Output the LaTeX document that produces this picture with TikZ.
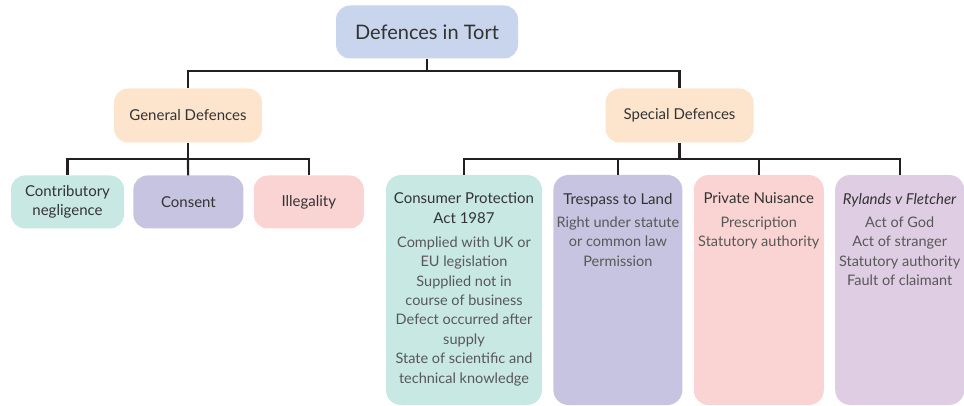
\documentclass[tikz,border=0pt]{standalone}
\usepackage{fontspec}
\setmainfont{Lato}
\usetikzlibrary{positioning}
\definecolor{inkDark}{RGB}{51,51,51}
\definecolor{inkSoft}{RGB}{88,88,88}
\definecolor{lineBlack}{RGB}{35,31,32}
\definecolor{tortBlue}{RGB}{200,213,237}
\definecolor{peach}{RGB}{253,228,204}
\definecolor{tealPale}{RGB}{200,232,228}
\definecolor{lavender}{RGB}{199,196,225}
\definecolor{pinkPale}{RGB}{250,212,210}
\definecolor{lilac}{RGB}{223,205,228}
\tikzset{
  tort node/.style={fill=tortBlue,rounded corners=14pt,align=center,text=inkDark,font=\fontsize{20}{24}\selectfont,minimum width=182pt,minimum height=53pt},
  group node/.style={fill=peach,rounded corners=14pt,align=center,text=inkDark,font=\fontsize{15}{19}\selectfont,minimum width=148pt,minimum height=54pt},
  leaf node/.style={rounded corners=14pt,align=center,text=inkDark,font=\fontsize{15}{19}\selectfont,minimum height=53pt},
  list node/.style={rounded corners=15pt,inner sep=0pt,minimum height=230pt},
  tree line/.style={line width=2.2pt,draw=lineBlack}
}
% heading and list of defences, set from the top of a tall box
\newcommand{\defencelist}[3]{%
  \parbox[c][230pt][t]{#1}{\centering\vspace*{18pt}%
    {\color{inkDark}\fontsize{15}{20}\selectfont #2\par}\vspace{4pt}%
    {\color{inkSoft}\fontsize{14.5}{19.4}\selectfont #3\par}}}

\begin{document}
\begin{tikzpicture}[x=1pt,y=1pt]
  \useasboundingbox (0,0) rectangle (964,-406);
  \node[tort node] (tort) at (427,-32) {Defences in Tort};
  \node[group node] (general) at (188,-115.5) {General Defences};
  \node[group node] (special) at (679.5,-115.5) {Special Defences};
  % general defences
  \node[leaf node,fill=tealPale,minimum width=113pt] (contrib) at (67.5,-202) {Contributory\\negligence};
  \node[leaf node,fill=lavender,minimum width=110pt,right=9pt of contrib] (consent) {Consent};
  \node[leaf node,fill=pinkPale,minimum width=110pt,right=10pt of consent] (illegal) {Illegality};
  % special defences
  \node[list node,fill=tealPale,minimum width=156pt] (consumer) at (464,-290) {\defencelist{152pt}{Consumer Protection\\Act 1987}{Complied with UK or\\EU legislation\\Supplied not in\\course of business\\Defect occurred after\\supply\\State of scientific and\\technical knowledge}};
  \node[list node,fill=lavender,minimum width=129pt,right=11pt of consumer] (trespass) {\defencelist{128pt}{Trespass to Land}{Right under statute\\or common law\\Permission}};
  \node[list node,fill=pinkPale,minimum width=130pt,right=11pt of trespass] (nuisance) {\defencelist{129pt}{Private Nuisance}{Prescription\\Statutory authority}};
  \node[list node,fill=lilac,minimum width=129pt,right=11pt of nuisance] (rylands) {\defencelist{128pt}{\textit{Rylands v Fletcher}}{Act of God\\Act of stranger\\Statutory authority\\Fault of claimant}};
  % connectors
  \coordinate (topbus) at (427,-71);
  \coordinate (genbus) at (188,-159);
  \coordinate (specbus) at (679.5,-159);
  \draw[tree line] (tort) -- (topbus);
  \draw[tree line] (topbus) -| (general);
  \draw[tree line] (topbus) -| (special);
  \draw[tree line] (general) -- (genbus);
  \draw[tree line] (genbus) -| (contrib);
  \draw[tree line] (genbus) -- (consent);
  \draw[tree line] (genbus) -| (illegal);
  \draw[tree line] (special) -- (specbus);
  \draw[tree line] (specbus) -| (consumer);
  \draw[tree line] (specbus) -| (trespass);
  \draw[tree line] (specbus) -| (nuisance);
  \draw[tree line] (specbus) -| (rylands);
\end{tikzpicture}
\end{document}
